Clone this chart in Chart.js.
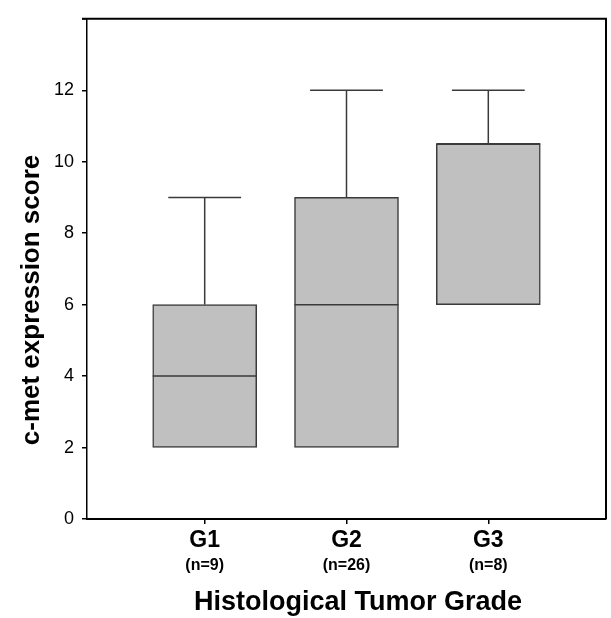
<!DOCTYPE html>
<html>
<head>
<meta charset="utf-8">
<script src="https://cdn.jsdelivr.net/npm/chart.js@4/dist/chart.umd.min.js"></script>
<style>
  html, body { margin: 0; padding: 0; background: #fff; }
  #wrap { width: 611px; height: 618px; }
</style>
</head>
<body>
<div id="wrap"><canvas id="chart" width="611" height="618"></canvas></div>
<script>
// box plot values
const grades = ['G1', 'G2', 'G3'];
const counts = [9, 26, 8];
const lowWhisker = [2, 2, 6];
const q1 = [2, 2, 6];
const medians = [4, 6, 10.5];
const q3 = [6, 9, 10.5];
const highWhisker = [9, 12, 12];
const yMax = 14;
const yStep = 2;

const FONT = '"Liberation Sans", Arial, sans-serif';
Chart.defaults.font.family = FONT;
Chart.defaults.color = '#000';

function line(ctx, x1, y1, x2, y2) {
    ctx.beginPath();
    ctx.moveTo(x1, y1);
    ctx.lineTo(x2, y2);
    ctx.stroke();
}

const boxPlot = {
    id: 'boxPlot',
    afterDatasetsDraw(chart) {
        const ctx = chart.ctx;
        const x = chart.scales.x, y = chart.scales.y;
        const bars = chart.getDatasetMeta(0).data;
        ctx.save();
        ctx.strokeStyle = '#3a3a3a';
        bars.forEach((bar, i) => {
            const cx = x.getPixelForValue(i + 1);
            const half = bar.width / 2;
            const cap = bar.width * 0.35;
            ctx.lineWidth = 1.5;
            // median
            const ym = y.getPixelForValue(medians[i]);
            line(ctx, cx - half, ym, cx + half, ym);
            // whiskers
            if (highWhisker[i] > q3[i]) {
                const yt = y.getPixelForValue(highWhisker[i]);
                line(ctx, cx, y.getPixelForValue(q3[i]), cx, yt);
                line(ctx, cx - cap, yt, cx + cap, yt);
            }
            if (lowWhisker[i] < q1[i]) {
                const yb = y.getPixelForValue(lowWhisker[i]);
                line(ctx, cx, y.getPixelForValue(q1[i]), cx, yb);
                line(ctx, cx - cap, yb, cx + cap, yb);
            }
        });
        ctx.restore();
    },
    afterDraw(chart) {
        const ctx = chart.ctx;
        const a = chart.chartArea;
        const x = chart.scales.x;
        ctx.save();
        // top and right of the frame
        ctx.strokeStyle = '#000';
        ctx.lineWidth = 2;
        line(ctx, a.left - 5, a.top, a.right + 1, a.top);
        line(ctx, a.right, a.top, a.right, a.bottom);
        ctx.fillStyle = '#000';
        ctx.textAlign = 'center';
        ctx.textBaseline = 'middle';
        // group sizes under the tick labels
        ctx.font = 'bold 16px ' + FONT;
        grades.forEach((g, i) => {
            ctx.fillText('(n=' + counts[i] + ')', x.getPixelForValue(i + 1), 566);
        });
        // x axis title
        ctx.font = 'bold 27px ' + FONT;
        ctx.fillText('Histological Tumor Grade', 358, 603);
        // y axis title
        ctx.translate(32, 300);
        ctx.rotate(-Math.PI / 2);
        ctx.font = 'bold 26px ' + FONT;
        ctx.fillText('c-met expression score', 0, 0);
        ctx.restore();
    }
};

const data = {
    datasets: [{
        data: grades.map((g, i) => ({ x: i + 1, y: [q1[i], q3[i]] })),
        backgroundColor: '#c0c0c0',
        borderColor: '#3a3a3a',
        borderWidth: 1.5,
        borderSkipped: false,
        barThickness: 104
    }]
};

const options = {
    responsive: false,
    animation: false,
    layout: { padding: { top: 11, right: 5, left: 0, bottom: 0 } },
    plugins: {
        legend: { display: false },
        tooltip: { enabled: false }
    },
    scales: {
        x: {
            type: 'linear',
            min: 0.17,
            max: 3.83,
            offset: false,
            afterBuildTicks(scale) {
                scale.ticks = grades.map((g, i) => ({ value: i + 1 }));
            },
            afterFit(scale) { scale.height = 99; },
            ticks: {
                callback: (v) => grades[v - 1],
                font: { size: 23, weight: 'bold' },
                padding: 3,
                maxRotation: 0
            },
            grid: { offset: false, drawOnChartArea: false, tickLength: 5, color: '#000', lineWidth: 1.5 },
            border: { color: '#000', width: 2 }
        },
        y: {
            min: 0,
            max: yMax,
            afterFit(scale) { scale.width = 87; },
            ticks: {
                stepSize: yStep,
                callback: (v) => (v < yMax ? v : ''),
                font: { size: 18 },
                padding: 8
            },
            grid: { drawOnChartArea: false, tickLength: 5, color: '#000', lineWidth: 1.5 },
            border: { color: '#000', width: 1.5 }
        }
    }
};

new Chart(document.getElementById('chart').getContext('2d'), {
    type: 'bar',
    data: data,
    options: options,
    plugins: [boxPlot]
});
</script>
</body>
</html>
